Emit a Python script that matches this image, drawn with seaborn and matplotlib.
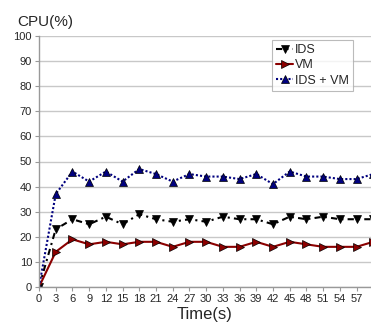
import matplotlib
matplotlib.use("Agg")
import matplotlib.pyplot as plt
import seaborn as sns
import pandas as pd

time = list(range(0, 61, 3))
ids = [0, 23, 27, 25, 28, 25, 29, 27, 26, 27, 26, 28, 27, 27, 25, 28, 27, 28, 27, 27, 27]
vm = [0, 14, 19, 17, 18, 17, 18, 18, 16, 18, 18, 16, 16, 18, 16, 18, 17, 16, 16, 16, 18]
ids_vm = [0, 37, 46, 42, 46, 42, 47, 45, 42, 45, 44, 44, 43, 45, 41, 46, 44, 44, 43, 43, 45]
series_names = ["IDS", "VM", "IDS + VM"]
xtick_labels = list(range(0, 58, 3))

sns.set_theme(style="white")
plt.rcParams['font.family'] = ['Liberation Sans', 'DejaVu Sans']

df = pd.DataFrame({
    "Time": time * 3,
    "CPU": ids + vm + ids_vm,
    "Series": [series_names[0]] * len(time) + [series_names[1]] * len(time) + [series_names[2]] * len(time),
})

fig = plt.figure(figsize=(3.71, 3.22), dpi=100)
ax = fig.add_axes([39/371, 1-287/322, 1-39/371, (287-36)/322])

palette = {"IDS": "black", "VM": "#8b0000", "IDS + VM": "#00007f"}
markers = {"IDS": "v", "VM": ">", "IDS + VM": "^"}
dashes = {"IDS": (3, 2, 1, 2), "VM": "", "IDS + VM": (1, 1)}

sns.lineplot(data=df, x="Time", y="CPU", hue="Series", style="Series",
             palette=palette, markers=markers, dashes=dashes, ax=ax,
             linewidth=1.5, markersize=5.5, markeredgecolor="black",
             markeredgewidth=0.5, clip_on=True)

ax.set_xlim(0, 59.6)
ax.set_ylim(0, 100)
ax.set_xticks(xtick_labels)
ax.set_xticklabels([str(v) for v in xtick_labels])
ax.set_yticks(range(0, 101, 10))
ax.tick_params(axis='both', labelsize=8, length=3, width=0.8, color="#999999", pad=2, direction='out')
ax.tick_params(axis='x', bottom=True)
ax.tick_params(axis='y', left=True)
ax.yaxis.grid(True, color="#c8c8c8", linewidth=1.0)
ax.set_axisbelow(True)
for s in ["top", "right"]:
    ax.spines[s].set_visible(False)
for s in ["left", "bottom"]:
    ax.spines[s].set_color("#999999")
    ax.spines[s].set_linewidth(1.0)

ax.set_xlabel("Time(s)", fontsize=12, labelpad=2)
ax.set_ylabel("")
fig.text(17/371, 1-22/322, "CPU(%)", fontsize=11, ha="left", va="center")

leg = ax.legend(loc="upper left", bbox_to_anchor=((272-39)/(371-39), 1-(40-36)/251),
                fontsize=9, frameon=True, fancybox=False, handlelength=1.3,
                handletextpad=0.2, borderpad=0.35, labelspacing=0.25, borderaxespad=0)
leg.get_frame().set_edgecolor("#aaaaaa")
leg.get_frame().set_linewidth(0.8)
leg.set_title(None)

fig.savefig("out.png", dpi=100)
